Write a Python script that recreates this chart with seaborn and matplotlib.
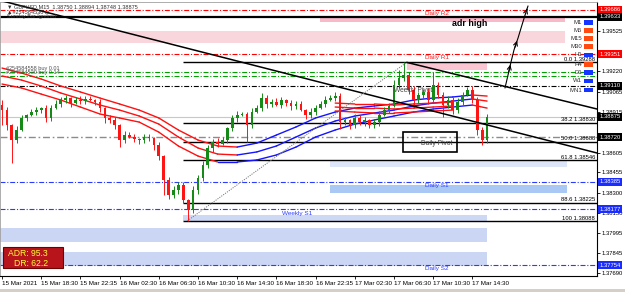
import matplotlib
matplotlib.use("Agg")
import matplotlib.pyplot as plt
import matplotlib.transforms as mtransforms
from matplotlib.collections import LineCollection
from matplotlib.patches import Rectangle
import numpy as np
import pandas as pd
import seaborn as sns

sns.set_theme(style="white")
plt.rcParams['font.family'] = ['Liberation Sans', 'DejaVu Sans']

PIP = 0.0001

# ---------------- data ----------------
first_open = 1.38965
closes = [
    1.38927, 1.38814, 1.38700, 1.38776, 1.38867, 1.38889, 1.38912, 1.38927, 1.38942, 1.38867,
    1.38942, 1.38973, 1.39003, 1.39018, 1.38980, 1.39003, 1.38995, 1.39011, 1.39003, 1.38988,
    1.38942, 1.38867, 1.38852, 1.38814, 1.38700, 1.38738, 1.38723, 1.38708, 1.38700, 1.38723,
    1.38715, 1.38662, 1.38579, 1.38397, 1.38284, 1.38322, 1.38360, 1.38246, 1.38170, 1.38322,
    1.38413, 1.38511, 1.38640, 1.38685, 1.38670, 1.38700, 1.38791, 1.38867, 1.38889, 1.38895,
    1.38814, 1.38912, 1.38942, 1.39018, 1.38973, 1.38988, 1.38965, 1.39003, 1.38980, 1.38958,
    1.38973, 1.38927, 1.38889, 1.38912, 1.38942, 1.38973, 1.39003, 1.39018, 1.39033, 1.38836,
    1.38852, 1.38814, 1.38867, 1.38836, 1.38852, 1.38814, 1.38836, 1.38889, 1.38927, 1.38958,
    1.39117, 1.39170, 1.39192, 1.39079, 1.39003, 1.39041, 1.39064, 1.39003, 1.39117, 1.39041,
    1.38965, 1.39003, 1.38927, 1.38988, 1.39041, 1.39079, 1.39003, 1.38776, 1.38700, 1.38875,
]
wick_up_pips = [
    4, 2, 1, 3, 2, 1, 2, 2, 1, 2,
    2, 3, 2, 2, 1, 2, 3, 2, 2, 1,
    2, 1, 2, 2, 1, 3, 2, 2, 1, 2,
    2, 1, 2, 1, 2, 3, 2, 2, 1, 3,
    2, 3, 2, 2, 3, 2, 1, 2, 3, 2,
    2, 3, 2, 4, 2, 2, 3, 2, 1, 2,
    2, 2, 1, 3, 2, 2, 3, 2, 3, 2,
    2, 1, 3, 2, 2, 1, 2, 3, 2, 2,
    4, 6, 10, 2, 3, 2, 2, 3, 10, 2,
    2, 3, 2, 3, 2, 2, 3, 2, 2, 2,
]
wick_dn_pips = [
    11, 4, 17, 2, 1, 2, 1, 2, 2, 3,
    2, 1, 2, 2, 3, 1, 2, 2, 1, 2,
    3, 4, 2, 3, 5, 2, 1, 2, 3, 2,
    2, 4, 3, 11, 3, 2, 3, 2, 8, 2,
    3, 2, 2, 3, 2, 1, 2, 2, 3, 1,
    13, 2, 1, 2, 3, 2, 1, 2, 2, 3,
    2, 1, 3, 2, 2, 1, 2, 1, 2, 5,
    2, 3, 2, 2, 3, 2, 2, 3, 1, 2,
    1, 2, 2, 3, 6, 2, 2, 3, 2, 2,
    9, 2, 3, 2, 2, 1, 2, 4, 4, 2,
]

# moving-average envelope (sampled every 4 bars)
ma_bars = [0, 4, 8, 12, 16, 20, 24, 28, 32, 36, 40, 44, 48, 52, 56, 60, 64, 68, 72, 76, 80, 84, 88, 92, 96, 99]
ma_top = [1.39245, 1.39207, 1.39162, 1.39109, 1.39064, 1.39018, 1.38973, 1.38927, 1.38867, 1.38776,
          1.38700, 1.38655, 1.38647, 1.38677, 1.38738, 1.38799, 1.38867, 1.38912, 1.38942, 1.38958,
          1.38973, 1.39003, 1.39018, 1.39026, 1.39041, 1.39033]
ma_mid = [1.39185, 1.39154, 1.39109, 1.39056, 1.39011, 1.38965, 1.38927, 1.38882, 1.38821, 1.38723,
          1.38640, 1.38594, 1.38587, 1.38610, 1.38655, 1.38723, 1.38791, 1.38844, 1.38882, 1.38905,
          1.38927, 1.38958, 1.38980, 1.38995, 1.39011, 1.38995]
ma_bot = [1.39124, 1.39094, 1.39048, 1.39003, 1.38950, 1.38897, 1.38867, 1.38836, 1.38760, 1.38655,
          1.38579, 1.38534, 1.38534, 1.38549, 1.38587, 1.38647, 1.38723, 1.38776, 1.38821, 1.38852,
          1.38882, 1.38912, 1.38935, 1.38950, 1.38965, 1.38942]
slow_bars = [68, 72, 76, 80, 84, 88, 92]
slow_top = [1.38980, 1.38973, 1.38973, 1.38965, 1.38973, 1.38980, 1.38988]
slow_mid = [1.38950, 1.38942, 1.38942, 1.38935, 1.38942, 1.38950, 1.38958]
slow_bot = [1.38920, 1.38912, 1.38905, 1.38905, 1.38912, 1.38920, 1.38927]

# pivot / order levels
daily_r2 = 1.39686
adr_high = 1.39633
daily_r1 = 1.39351
buy_levels = [1.39215, 1.39185]
buy_labels = ["#254584558 buy 0.01", "#254584530 buy 0.14"]
weekly_pivot = 1.39110
current_price = 1.38875
daily_pivot = 1.38720
daily_s1 = 1.38385
weekly_s1 = 1.38177
daily_s2 = 1.37754

# fibonacci retracement
fib_ratios = ["0.0", "38.2", "50.0", "61.8", "88.6", "100"]
fib_prices = [1.39288, 1.38830, 1.38688, 1.38546, 1.38225, 1.38088]
fib_start_bar = 37

# zones: (bar0, bar1, price_lo, price_hi, colour)
zones = [
    (64.9, 114.9, 1.39596, 1.39630, "#f8b9c9"),
    (-0.5, 114.9, 1.39435, 1.39525, "#f9d6dc"),
    (82.7, 99.0, 1.39230, 1.39283, "#f9c6d1"),
    (66.9, 115.3, 1.38496, 1.38541, "#dde5f8"),
    (66.9, 115.3, 1.38299, 1.38360, "#a9c8f4"),
    (37.0, 99.0, 1.38087, 1.38132, "#cdd8f5"),
    (-0.5, 99.0, 1.37928, 1.38034, "#cbd6f5"),
    (-0.5, 99.0, 1.37746, 1.37852, "#cbd6f5"),
]

# trend lines (bar, price anchors)
trend_a = ([-0.41, 121.43], [1.39757, 1.38602])
trend_b = ([82.6, 121.43], [1.39288, 1.38935])
fib_diag = ([37.8, 82.6], [1.38088, 1.39288])
hand_bars = [102.65, 103.27, 103.88, 104.49, 105.31, 106.12, 106.94, 107.35]
hand_prices = [1.39094, 1.39192, 1.39291, 1.39382, 1.39472, 1.39571, 1.39669, 1.39715]

# axes labels
time_tick_bars = [0, 8, 16, 24, 32, 40, 48, 56, 64, 72, 80, 88, 96]
time_labels = ["15 Mar 2021", "15 Mar 18:30", "15 Mar 22:35", "16 Mar 02:30", "16 Mar 06:30",
               "16 Mar 10:30", "16 Mar 14:30", "16 Mar 18:30", "16 Mar 22:35", "17 Mar 02:30",
               "17 Mar 06:30", "17 Mar 10:30", "17 Mar 14:30"]
price_ticks = [1.39525, 1.39220, 1.39065, 1.38915, 1.38605, 1.38455, 1.38300, 1.38150,
               1.37995, 1.37845, 1.37690]
marked_prices = [1.39686, 1.39633, 1.39351, 1.39110, 1.38875, 1.38720, 1.38385, 1.38177, 1.37754]
marked_colors = ["#ff0000", "#000000", "#ff0000", "#000000", "#000000", "#000000",
                 "#1a2cff", "#1a2cff", "#1a2cff"]
tf_names = ["M1", "M5", "M15", "M30", "H1", "H4", "D1", "W1", "MN1"]
tf_colors = ["#1434ff", "#ff4a10", "#ff4a10", "#ff4a10", "#1434ff", "#ff4a10",
             "#1434ff", "#1434ff", "#1434ff"]
adr_value = 95.3
dr_value = 62.2

# ---------------- figure ----------------
W, H = 625, 292
fig = plt.figure(figsize=(W / 100, H / 100), dpi=100)
fig.patch.set_facecolor("white")
ax = fig.add_axes([0.0, 16 / H, 597 / W, 274 / H])
ax.set_facecolor("white")
XMIN, XMAX = -0.41, 121.43
ax.set_xlim(XMIN, XMAX)
ax.set_ylim(1.37671, 1.39745)

BULL = "#168a16"
BEAR = "#ff1414"
MA_UP = "#1414ff"
MA_DN = "#ff1010"
DASHDOT = (0, (4.5, 1.6, 1.0, 1.6))

# zones
for b0, b1, lo, hi, c in zones:
    ax.add_patch(Rectangle((b0, lo), b1 - b0, hi - lo, fc=c, ec="none", zorder=0.5))

# horizontal levels
ax.axhline(daily_r2, color="#ff0000", lw=0.8, ls=DASHDOT, zorder=1)
ax.axhline(adr_high, color="#000000", lw=1.6, zorder=1)
ax.axhline(daily_r1, color="#ff0000", lw=0.8, ls=DASHDOT, zorder=1)
for lv in buy_levels:
    ax.axhline(lv, color="#00a000", lw=0.8, ls=DASHDOT, zorder=1)
ax.axhline(weekly_pivot, color="#000000", lw=0.8, ls=DASHDOT, zorder=1)
ax.axhline(current_price, color="#c8c8c8", lw=0.8, zorder=1)
ax.axhline(daily_pivot, color="#8c8c8c", lw=1.0, ls=(0, (5, 2, 1.2, 2)), zorder=1)
for lv in (daily_s1, weekly_s1, daily_s2):
    ax.axhline(lv, color="#2a3cff", lw=0.8, ls=DASHDOT, zorder=1)

# fibonacci
ax.hlines(fib_prices, fib_start_bar, XMAX, colors="#000000", lw=1.0, zorder=1.5)
transR = mtransforms.blended_transform_factory(ax.transAxes, ax.transData)
for r, p in zip(fib_ratios, fib_prices):
    ax.text(0.997, p + 0.00003, f"{r} {p:.5f}", transform=transR, ha="right", va="bottom",
            fontsize=4.2, color="#000000", zorder=6)

# moving averages (slope coloured)
def draw_ma(xs, ys, fixed=None):
    pts = np.column_stack([xs, ys])
    segs = np.stack([pts[:-1], pts[1:]], axis=1)
    if fixed is None:
        cols = [MA_UP if s[1, 1] >= s[0, 1] else MA_DN for s in segs]
    else:
        cols = [fixed] * len(segs)
    ax.add_collection(LineCollection(segs, colors=cols, linewidths=1.0, zorder=3,
                                     capstyle="round", joinstyle="round"))

for arr in (ma_top, ma_mid, ma_bot):
    draw_ma(ma_bars, arr)
for arr in (slow_top, slow_mid, slow_bot):
    draw_ma(slow_bars, arr, fixed=MA_DN)

# candles
df = pd.DataFrame({"close": closes, "up": wick_up_pips, "dn": wick_dn_pips})
df["bar"] = np.arange(len(df))
df["open"] = df["close"].shift(1).fillna(first_open)
df["high"] = df[["open", "close"]].max(axis=1) + df["up"] * PIP
df["low"] = df[["open", "close"]].min(axis=1) - df["dn"] * PIP
bull = (df["close"] >= df["open"]).to_numpy()
cols = np.where(bull, BULL, BEAR)
ax.vlines(df["bar"], df["low"], df["high"], colors=cols, lw=0.7, zorder=4)
ax.bar(df["bar"], (df["close"] - df["open"]).abs().clip(lower=0.00003),
       bottom=df[["open", "close"]].min(axis=1), width=0.55, color=cols, lw=0, zorder=5)

# trend lines
sns.lineplot(x=trend_a[0], y=trend_a[1], ax=ax, color="#000000", lw=1.1, zorder=6,
             estimator=None, sort=False)
sns.lineplot(x=trend_b[0], y=trend_b[1], ax=ax, color="#000000", lw=1.1, zorder=6,
             estimator=None, sort=False)
sns.lineplot(x=fib_diag[0], y=fib_diag[1], ax=ax, color="#7a7a7a", lw=0.7, zorder=6,
             estimator=None, sort=False, linestyle=(0, (1.2, 1.2)))
sns.lineplot(x=hand_bars, y=hand_prices, ax=ax, color="#000000", lw=0.8, zorder=7,
             estimator=None, sort=False)
for i in (2, 4, 7):
    ax.annotate("", xy=(hand_bars[i], hand_prices[i]), xytext=(hand_bars[i - 1], hand_prices[i - 1]),
                arrowprops=dict(arrowstyle="->", lw=0.8, color="black", mutation_scale=7), zorder=7)

# Daily pivot box
box_b0, box_b1, box_lo, box_hi = 81.8, 92.9, 1.38609, 1.38761
ax.add_patch(Rectangle((box_b0, box_lo), box_b1 - box_b0, box_hi - box_lo, fc="none",
                       ec="#000000", lw=1.2, zorder=6))

# level labels
def level_label(x, y, txt, color, size=4.6, weight="normal", dy=-1.0):
    ax.annotate(txt, (x, y), xytext=(0, dy), textcoords="offset points", ha="center",
                va="top", fontsize=size, color=color, fontweight=weight, zorder=8)

level_label(88.8, daily_r2, "Daily R2", "#ff2020")
level_label(95.5, adr_high, "adr high", "#000000", size=6.4, weight="bold", dy=-1.5)
level_label(88.8, daily_r1, "Daily R1", "#ff2020")
level_label(83.9, weekly_pivot, "Weekly Pivot", "#404040", size=4.8)
level_label(88.8, daily_pivot, "Daily Pivot", "#404040", size=4.8, dy=-2.0)
level_label(88.8, daily_s1, "Daily S1", "#2a3cff")
level_label(60.2, weekly_s1, "Weekly S1", "#2a3cff")
level_label(88.8, daily_s2, "Daily S2", "#2a3cff")
for lv, txt in zip(buy_levels, buy_labels):
    ax.text(0.01, lv + 0.00004, txt, transform=transR, ha="left", va="bottom",
            fontsize=4.0, color="#505050", zorder=8)

# header
ax.text(0.012, 0.982, "\u25bc GBPUSD,M15  1.38750 1.38894 1.38748 1.38875", transform=ax.transAxes,
        fontsize=4.0, color="#303030", va="center", ha="left", zorder=8,
        family=["Liberation Sans", "DejaVu Sans"])
ax.text(0.012, 0.963, "\u25b2#254584530 tp", transform=ax.transAxes, fontsize=4.0,
        color="#303030", va="center", ha="left", zorder=8, family=["Liberation Sans", "DejaVu Sans"])
ax.text(0.012, 0.948, "Sunday Bar Ignored", transform=ax.transAxes, fontsize=4.0,
        color="#303030", va="center", ha="left", zorder=8)

# timeframe legend
tf_py = [22.7, 30.7, 38.7, 46.7, 55.0, 64.3, 72.7, 81.0, 90.0]
for name, c, py in zip(tf_names, tf_colors, tf_py):
    yf = 1 - (py - 2) / 274
    ax.text(582 / 597, yf, name, transform=ax.transAxes, ha="right", va="center",
            fontsize=4.3, color="#303030", zorder=9)
    ax.add_patch(Rectangle((584 / 597, yf - 0.009), 9 / 597, 0.018, transform=ax.transAxes,
                           fc=c, ec="none", zorder=9))

# ADR box
ax.add_patch(Rectangle((3 / 597, 0.029), 60 / 597, 0.077, transform=ax.transAxes,
                       fc="#b8141c", ec="#6e0000", lw=0.8, zorder=9))
ax.text(8 / 597, 0.081, f"ADR: {adr_value}", transform=ax.transAxes, fontsize=6.2,
        color="#ffff3a", va="center", ha="left", zorder=10)
ax.text(14 / 597, 0.044, f"DR: {dr_value}", transform=ax.transAxes, fontsize=6.2,
        color="#ffff3a", va="center", ha="left", zorder=10)

# axes
ax.yaxis.tick_right()
ax.set_yticks(price_ticks)
ax.set_yticklabels([f"{p:.5f}" for p in price_ticks])
ax.tick_params(axis="y", right=True, left=False, length=2, width=0.6, pad=1.5,
               labelsize=4.2, colors="#000000", direction="out")
ax.set_xticks(time_tick_bars)
ax.set_xticklabels(time_labels, ha="left", fontsize=4.5)
ax.tick_params(axis="x", bottom=True, length=2.5, width=0.6, pad=1.2, colors="#000000",
               direction="out")
ax.set_xlabel("")
ax.set_ylabel("")
for s in ("right", "bottom"):
    ax.spines[s].set_color("#000000")
    ax.spines[s].set_linewidth(0.8)
for s in ("left", "top"):
    ax.spines[s].set_color("#a0a0a0")
    ax.spines[s].set_linewidth(0.6)

for p, c in zip(marked_prices, marked_colors):
    ax.text(1.004, p, f"{p:.5f}", transform=transR, fontsize=4.2, color="white", va="center",
            ha="left", bbox=dict(boxstyle="square,pad=0.25", fc=c, ec="none"), clip_on=False,
            zorder=10)

fig.patches.append(Rectangle((0, 0), 1, 3 / H, transform=fig.transFigure, fc="#d4d0c8",
                             ec="none", zorder=0))

fig.savefig("out.png", dpi=100)
